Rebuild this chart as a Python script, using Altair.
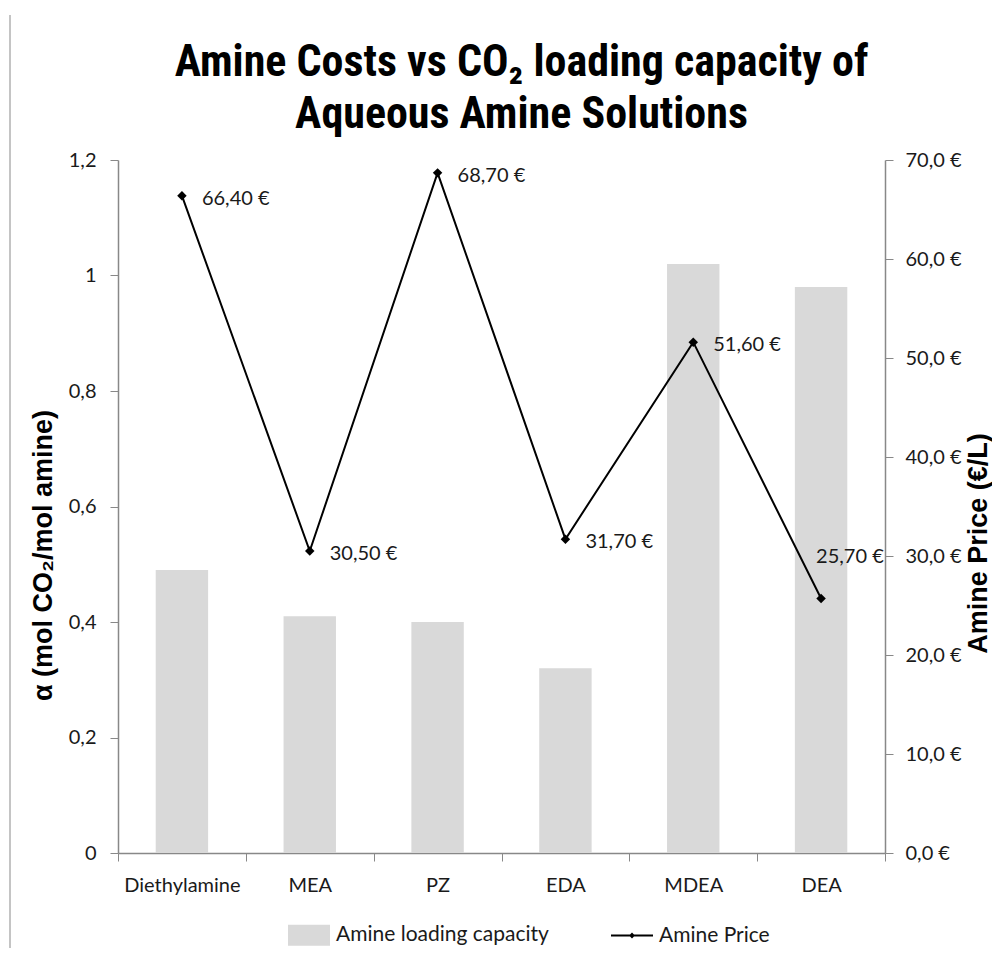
import altair as alt
import pandas as pd

categories = ["Diethylamine", "MEA", "PZ", "EDA", "MDEA", "DEA"]
loading_capacity = [0.49, 0.41, 0.40, 0.32, 1.02, 0.98]
amine_price = [66.40, 30.50, 68.70, 31.70, 51.60, 25.70]
left_ticks = [0, 0.2, 0.4, 0.6, 0.8, 1.0, 1.2]
right_ticks = [0, 10, 20, 30, 40, 50, 60, 70]
legend_names = ["Amine loading capacity", "Amine Price"]

df = pd.DataFrame({
    "amine": categories,
    "alpha": loading_capacity,
    "price": amine_price,
    "series": "Amine Price",
})

LABEL_FONT = "Lato"
TITLE_FONT = "Roboto Condensed, DejaVu Sans Condensed, Liberation Sans Narrow, Liberation Sans"
AXIS_GREY = "#888888"

x_enc = alt.X(
    "amine:N",
    sort=categories,
    scale=alt.Scale(paddingInner=0, paddingOuter=0),
    axis=alt.Axis(title=None, tickBand="extent", labelAngle=0, labelPadding=14,
                  tickSize=8, labelFontSize=20),
)

bars = alt.Chart(df).mark_bar(color="#d9d9d9", width=alt.RelativeBandSize(0.41)).encode(
    x=x_enc,
    y=alt.Y(
        "alpha:Q",
        scale=alt.Scale(domain=[0, 1.2], nice=False),
        axis=alt.Axis(
            values=left_ticks,
            labelExpr="replace(format(datum.value, '~g'), '.', ',')",
            title="α (mol CO₂/mol  amine)",
            titleAngle=270, titleX=-75, titleY=395,
            titleAlign="center", titleBaseline="middle",
            labelPadding=14,
        ),
    ),
)

price_y = alt.Y(
    "price:Q",
    scale=alt.Scale(domain=[0, 70], nice=False),
    axis=alt.Axis(
        orient="right",
        values=right_ticks,
        labelExpr="replace(format(datum.value, '.1f'), '.', ',') + ' €'",
        title="Amine Price (€/L)",
        titleAngle=270, titleX=101, titleY=383, titleFontSize=27,
        titleAlign="center", titleBaseline="alphabetic",
        labelPadding=12,
    ),
)

line = alt.Chart(df).mark_line(color="black", strokeWidth=2).encode(x=x_enc, y=price_y)
points = alt.Chart(df).mark_point(shape="diamond", filled=True, color="black", size=90, opacity=1).encode(
    x=x_enc, y=price_y
)

label_calc = "replace(format(datum.price, '.2f'), '.', ',') + ' €'"
labels = alt.Chart(df).transform_filter("datum.amine != 'DEA'").transform_calculate(
    lbl=label_calc
).mark_text(align="left", dx=20, dy=3, font=LABEL_FONT, fontSize=20, color="#1a1a1a").encode(
    x=x_enc, y=price_y, text="lbl:N"
)
labels_dea = alt.Chart(df).transform_filter("datum.amine == 'DEA'").transform_calculate(
    lbl=label_calc
).mark_text(align="left", dx=-5, dy=-42, font=LABEL_FONT, fontSize=20, color="#1a1a1a").encode(
    x=x_enc, y=price_y, text="lbl:N"
)

rect_path = "M-1,-0.5H1V0.5H-1Z"
line_diamond_path = "M-1,-0.05H1V0.05H-1ZM0,-0.14L0.14,0L0,0.14L-0.14,0Z"
leg = alt.Legend(
    title=None, orient="none", legendX=170, legendY=754, direction="horizontal",
    symbolSize=1764, symbolStrokeWidth=0, labelFont=LABEL_FONT, labelFontSize=21,
    labelColor="#1a1a1a", labelOffset=6, columnPadding=62, symbolOpacity=1, labelLimit=400,
)
legend_layer = alt.Chart(df).transform_filter("false").mark_point(filled=True, opacity=1).encode(
    color=alt.Color("series:N", scale=alt.Scale(domain=legend_names, range=["#d9d9d9", "#000000"]), legend=leg),
    shape=alt.Shape("series:N", scale=alt.Scale(domain=legend_names, range=[rect_path, line_diamond_path]), legend=leg),
)

border = alt.Chart(pd.DataFrame({"k": [0]})).mark_rule(color="#c4c4c4", strokeWidth=2).encode(
    x=alt.value(-108), y=alt.value(-145), y2=alt.value(788)
)

right_layer = alt.layer(line, points, labels, labels_dea)

chart = alt.layer(bars, right_layer, legend_layer, border).resolve_scale(y="independent").properties(
    width=767,
    height=693,
    autosize=alt.AutoSizeParams(type="none"),
    padding={"left": 110, "top": 152, "right": 107, "bottom": 103},
    title=alt.TitleParams(
        text=["Amine Costs vs CO₂ loading capacity of", "Aqueous Amine Solutions"],
        font=TITLE_FONT, fontSize=44, fontWeight="bold", lineHeight=52,
        anchor="middle", dx=20, dy=133, offset=10, color="black",
    ),
).configure_view(stroke=None).configure_axis(
    labelFont=LABEL_FONT, labelFontSize=20, labelColor="#1a1a1a",
    titleFont="Liberation Sans", titleFontWeight="bold", titleFontSize=27, titleColor="black",
    grid=False, tickColor=AXIS_GREY, domainColor=AXIS_GREY, tickSize=8, domainWidth=1.5,
)

chart.save("out.html", embed_options={"renderer": "svg", "actions": False})
